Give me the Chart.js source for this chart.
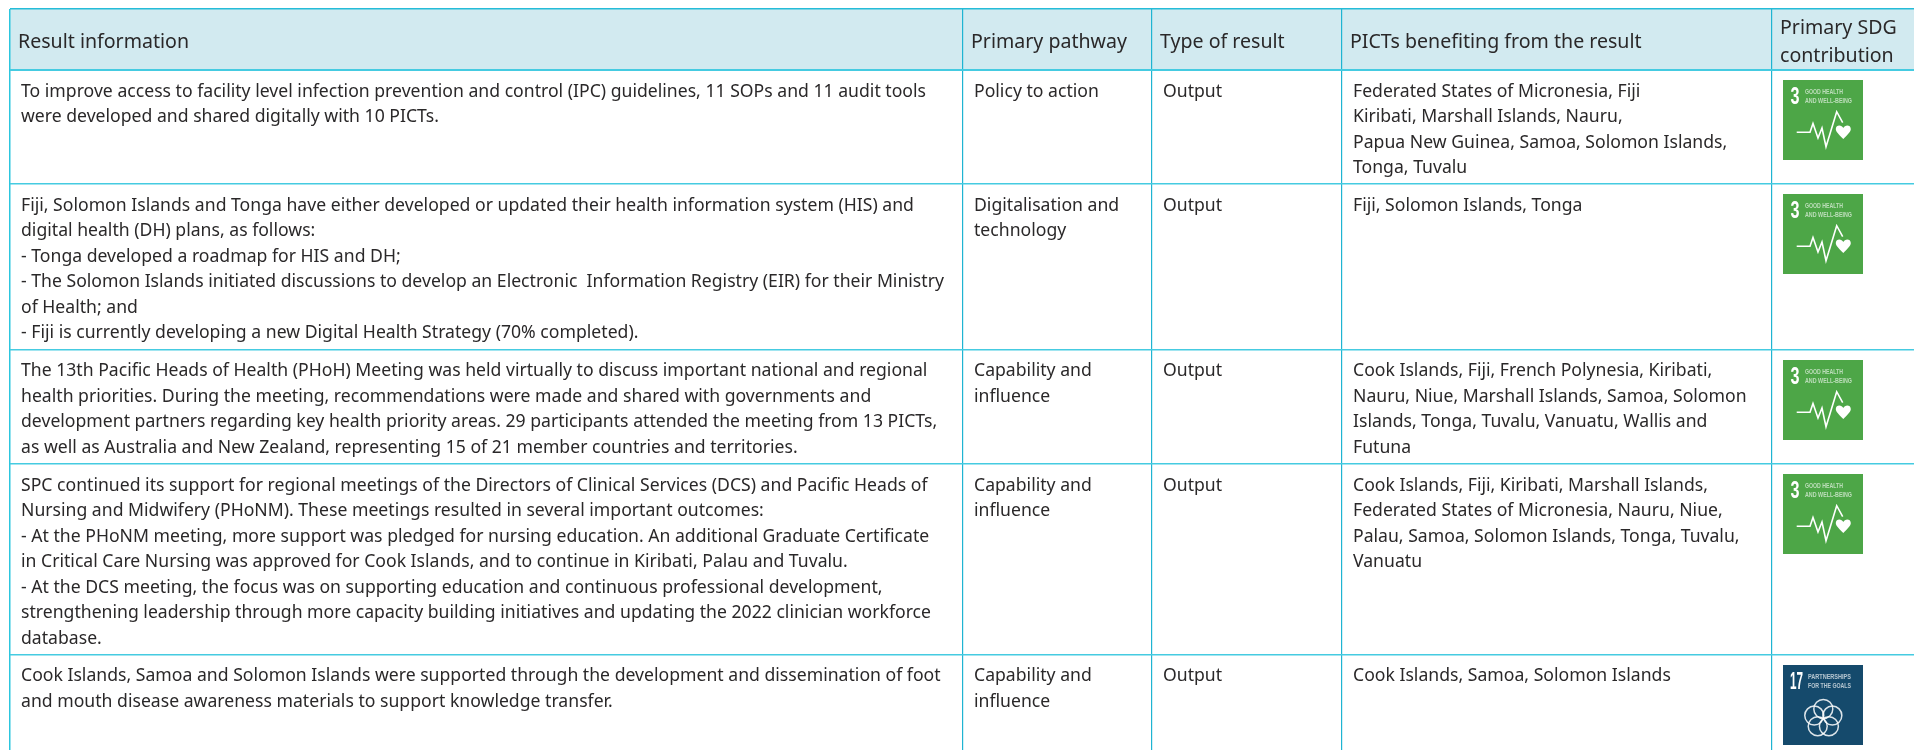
<!DOCTYPE html>
<html>
<head>
<meta charset="utf-8">
<title>Results table</title>
<script src="https://cdn.jsdelivr.net/npm/chart.js@4"></script>
<style>
    html, body { margin: 0; padding: 0; background: #fff; overflow: hidden; }
    canvas { display: block; }
</style>
</head>
<body>
<canvas id="tableChart" width="1914" height="750"></canvas>
<script>
// === Table content ===
const headers = [
    ['Result information'],
    ['Primary pathway'],
    ['Type of result'],
    ['PICTs benefiting from the result'],
    ['Primary SDG', 'contribution']
];

const resultInfo = [
    ['To improve access to facility level infection prevention and control (IPC) guidelines, 11 SOPs and 11 audit tools',
     'were developed and shared digitally with 10 PICTs.'],
    ['Fiji, Solomon Islands and Tonga have either developed or updated their health information system (HIS) and',
     'digital health (DH) plans, as follows:',
     '- Tonga developed a roadmap for HIS and DH;',
     '- The Solomon Islands initiated discussions to develop an Electronic  Information Registry (EIR) for their Ministry',
     'of Health; and',
     '- Fiji is currently developing a new Digital Health Strategy (70% completed).'],
    ['The 13th Pacific Heads of Health (PHoH) Meeting was held virtually to discuss important national and regional',
     'health priorities. During the meeting, recommendations were made and shared with governments and',
     'development partners regarding key health priority areas. 29 participants attended the meeting from 13 PICTs,',
     'as well as Australia and New Zealand, representing 15 of 21 member countries and territories.'],
    ['SPC continued its support for regional meetings of the Directors of Clinical Services (DCS) and Pacific Heads of',
     'Nursing and Midwifery (PHoNM). These meetings resulted in several important outcomes:',
     '- At the PHoNM meeting, more support was pledged for nursing education. An additional Graduate Certificate',
     'in Critical Care Nursing was approved for Cook Islands, and to continue in Kiribati, Palau and Tuvalu.',
     '- At the DCS meeting, the focus was on supporting education and continuous professional development,',
     'strengthening leadership through more capacity building initiatives and updating the 2022 clinician workforce',
     'database.'],
    ['Cook Islands, Samoa and Solomon Islands were supported through the development and dissemination of foot',
     'and mouth disease awareness materials to support knowledge transfer.']
];

const pathways = [
    ['Policy to action'],
    ['Digitalisation and', 'technology'],
    ['Capability and', 'influence'],
    ['Capability and', 'influence'],
    ['Capability and', 'influence']
];

const resultTypes = ['Output', 'Output', 'Output', 'Output', 'Output'];

const beneficiaries = [
    ['Federated States of Micronesia, Fiji', 'Kiribati, Marshall Islands, Nauru,', 'Papua New Guinea, Samoa, Solomon Islands,', 'Tonga, Tuvalu'],
    ['Fiji, Solomon Islands, Tonga'],
    ['Cook Islands, Fiji, French Polynesia, Kiribati,', 'Nauru, Niue, Marshall Islands, Samoa, Solomon', 'Islands, Tonga, Tuvalu, Vanuatu, Wallis and', 'Futuna'],
    ['Cook Islands, Fiji, Kiribati, Marshall Islands,', 'Federated States of Micronesia, Nauru, Niue,', 'Palau, Samoa, Solomon Islands, Tonga, Tuvalu,', 'Vanuatu'],
    ['Cook Islands, Samoa, Solomon Islands']
];

const sdgGoals = [3, 3, 3, 3, 17];

// axis ticks = table rules
const colEdges = [10, 963, 1152, 1342, 1772];
const rowEdges = [9, 70, 184, 349.5, 464, 654.5];

// === Style ===
const FONT = '"Noto Sans", sans-serif';
const TEXT_COLOR = '#2a2829';
const BODY_SIZE = 18.5;
const HEAD_SIZE = 20.5;
const LINE_HEIGHT = 25.5;

let bodyStretch = 1;
let headStretch = 1;

function drawLine(ctx, text, x, y, stretch) {
    ctx.save();
    ctx.translate(x, y);
    ctx.scale(stretch, 1);
    ctx.fillText(text, 0, 0);
    ctx.restore();
}

// text squeezed to a given width, used for the tiny tile captions
function fitLine(ctx, text, x, y, width) {
    drawLine(ctx, text, x, y, width / ctx.measureText(text).width);
}

function drawGoal3(ctx, x, y) {
    ctx.fillStyle = '#4da647';
    ctx.fillRect(x, y, 80, 80);
    ctx.fillStyle = '#fff';
    ctx.textBaseline = 'alphabetic';
    ctx.font = 'bold 23px "Liberation Sans Narrow", "Liberation Sans", sans-serif';
    fitLine(ctx, '3', x + 7.5, y + 23.5, 9);
    ctx.globalAlpha = 0.62;
    ctx.font = 'bold 8px "Liberation Sans", sans-serif';
    fitLine(ctx, 'GOOD HEALTH', x + 22, y + 13.5, 38);
    fitLine(ctx, 'AND WELL-BEING', x + 22, y + 22.5, 47);
    ctx.globalAlpha = 1;

    // heartbeat trace
    ctx.strokeStyle = '#fff';
    ctx.lineWidth = 1.6;
    ctx.beginPath();
    ctx.moveTo(x + 13.7, y + 52.3);
    ctx.lineTo(x + 27, y + 52.3);
    ctx.lineTo(x + 30, y + 43.5);
    ctx.lineTo(x + 35, y + 58);
    ctx.lineTo(x + 39, y + 48);
    ctx.lineTo(x + 43, y + 66.7);
    ctx.lineTo(x + 53.7, y + 31.7);
    ctx.lineTo(x + 59.7, y + 42.7);
    ctx.stroke();

    // heart
    const hx = x + 60.3, hy = y + 47;
    ctx.beginPath();
    ctx.moveTo(hx, hy + 12);
    ctx.bezierCurveTo(hx - 5, hy + 7, hx - 7.5, hy + 4.5, hx - 7.5, hy + 2);
    ctx.bezierCurveTo(hx - 7.5, hy - 2.5, hx - 1.5, hy - 2.5, hx, hy + 1);
    ctx.bezierCurveTo(hx + 1.5, hy - 2.5, hx + 7.5, hy - 2.5, hx + 7.5, hy + 2);
    ctx.bezierCurveTo(hx + 7.5, hy + 4.5, hx + 5, hy + 7, hx, hy + 12);
    ctx.fill();
}

function drawGoal17(ctx, x, y) {
    ctx.fillStyle = '#154a6c';
    ctx.fillRect(x, y, 80, 80);
    ctx.fillStyle = '#fff';
    ctx.textBaseline = 'alphabetic';
    ctx.font = 'bold 23px "Liberation Sans Narrow", "Liberation Sans", sans-serif';
    fitLine(ctx, '17', x + 7, y + 23.5, 13);
    ctx.globalAlpha = 0.68;
    ctx.font = 'bold 8px "Liberation Sans", sans-serif';
    fitLine(ctx, 'PARTNERSHIPS', x + 25, y + 13.5, 43);
    fitLine(ctx, 'FOR THE GOALS', x + 25, y + 23, 43);
    ctx.globalAlpha = 1;

    // five linked rings
    ctx.strokeStyle = 'rgba(255,255,255,0.85)';
    ctx.lineWidth = 1.5;
    for (let i = 0; i < 5; i++) {
        const a = -Math.PI / 2 + i * 2 * Math.PI / 5;
        ctx.beginPath();
        ctx.arc(x + 40.3 + 9.5 * Math.cos(a), y + 53.5 + 9.5 * Math.sin(a), 9.5, 0, Math.PI * 2);
        ctx.stroke();
    }
}

// draws header band, cell text and goal tiles through the chart's scales
const tablePlugin = {
    id: 'tablePlugin',
    beforeDraw(chart) {
        const { ctx, chartArea, scales: { y } } = chart;
        ctx.save();
        ctx.fillStyle = '#d2eaf0';
        ctx.fillRect(chartArea.left, y.getPixelForValue(rowEdges[0]), chartArea.width,
            y.getPixelForValue(rowEdges[1]) - y.getPixelForValue(rowEdges[0]));
        ctx.restore();
    },
    afterDraw(chart) {
        const { ctx, scales: { x, y } } = chart;
        ctx.save();
        ctx.textBaseline = 'alphabetic';

        // stretch factors so that line widths follow the reference's narrower face
        ctx.font = BODY_SIZE + 'px ' + FONT;
        bodyStretch = 905 / ctx.measureText(resultInfo[0][0]).width;
        ctx.font = HEAD_SIZE + 'px ' + FONT;
        headStretch = 171 / ctx.measureText(headers[0][0]).width;

        // header row
        ctx.fillStyle = TEXT_COLOR;
        headers.forEach((lines, c) => {
            const px = x.getPixelForValue(colEdges[c]) + 8;
            const baseY = lines.length === 1 ? 48 : 33.5;
            lines.forEach((t, i) => drawLine(ctx, t, px, y.getPixelForValue(baseY + i * 28.7), headStretch));
        });

        // body rows
        ctx.font = BODY_SIZE + 'px ' + FONT;
        const columns = [resultInfo, pathways, resultTypes.map(t => [t]), beneficiaries];
        columns.forEach((col, c) => {
            col.forEach((lines, r) => {
                const px = x.getPixelForValue(colEdges[c]) + 11;
                lines.forEach((t, i) => {
                    const py = y.getPixelForValue(rowEdges[r + 1] + 26.5 + i * LINE_HEIGHT);
                    drawLine(ctx, t, px, py, bodyStretch);
                });
            });
        });

        // SDG tiles
        sdgGoals.forEach((goal, r) => {
            const px = x.getPixelForValue(colEdges[4]) + 11;
            const py = Math.round(y.getPixelForValue(rowEdges[r + 1])) + 10;
            if (goal === 3) drawGoal3(ctx, px, py);
            else drawGoal17(ctx, px, py);
        });
        ctx.restore();
    }
};

new Chart(document.getElementById('tableChart'), {
    type: 'scatter',
    data: { datasets: [{ data: [], pointRadius: 0 }] },
    plugins: [tablePlugin],
    options: {
        responsive: false,
        animation: false,
        events: [],
        layout: { padding: { left: 10, top: 9, right: 0, bottom: 0 } },
        plugins: { legend: { display: false }, tooltip: { enabled: false } },
        scales: {
            x: {
                type: 'linear',
                min: 10,
                max: 1914,
                afterBuildTicks: axis => { axis.ticks = colEdges.map(value => ({ value })); },
                ticks: { display: false },
                border: { display: false },
                grid: {
                    drawTicks: false,
                    color: ctx => ctx.index === 0 ? '#2cc6de' : '#1fb4d2',
                    lineWidth: ctx => ctx.index === 0 ? 1.5 : 1.2
                }
            },
            y: {
                type: 'linear',
                min: 9,
                max: 750,
                reverse: true,
                afterBuildTicks: axis => { axis.ticks = rowEdges.map(value => ({ value })); },
                ticks: { display: false },
                border: { display: false },
                grid: {
                    drawTicks: false,
                    color: ctx => ctx.index === 0 ? '#25bcd8' : '#45cbe1',
                    lineWidth: ctx => ctx.index === 1 ? 2 : 1.5
                }
            }
        }
    }
});
</script>
</body>
</html>
